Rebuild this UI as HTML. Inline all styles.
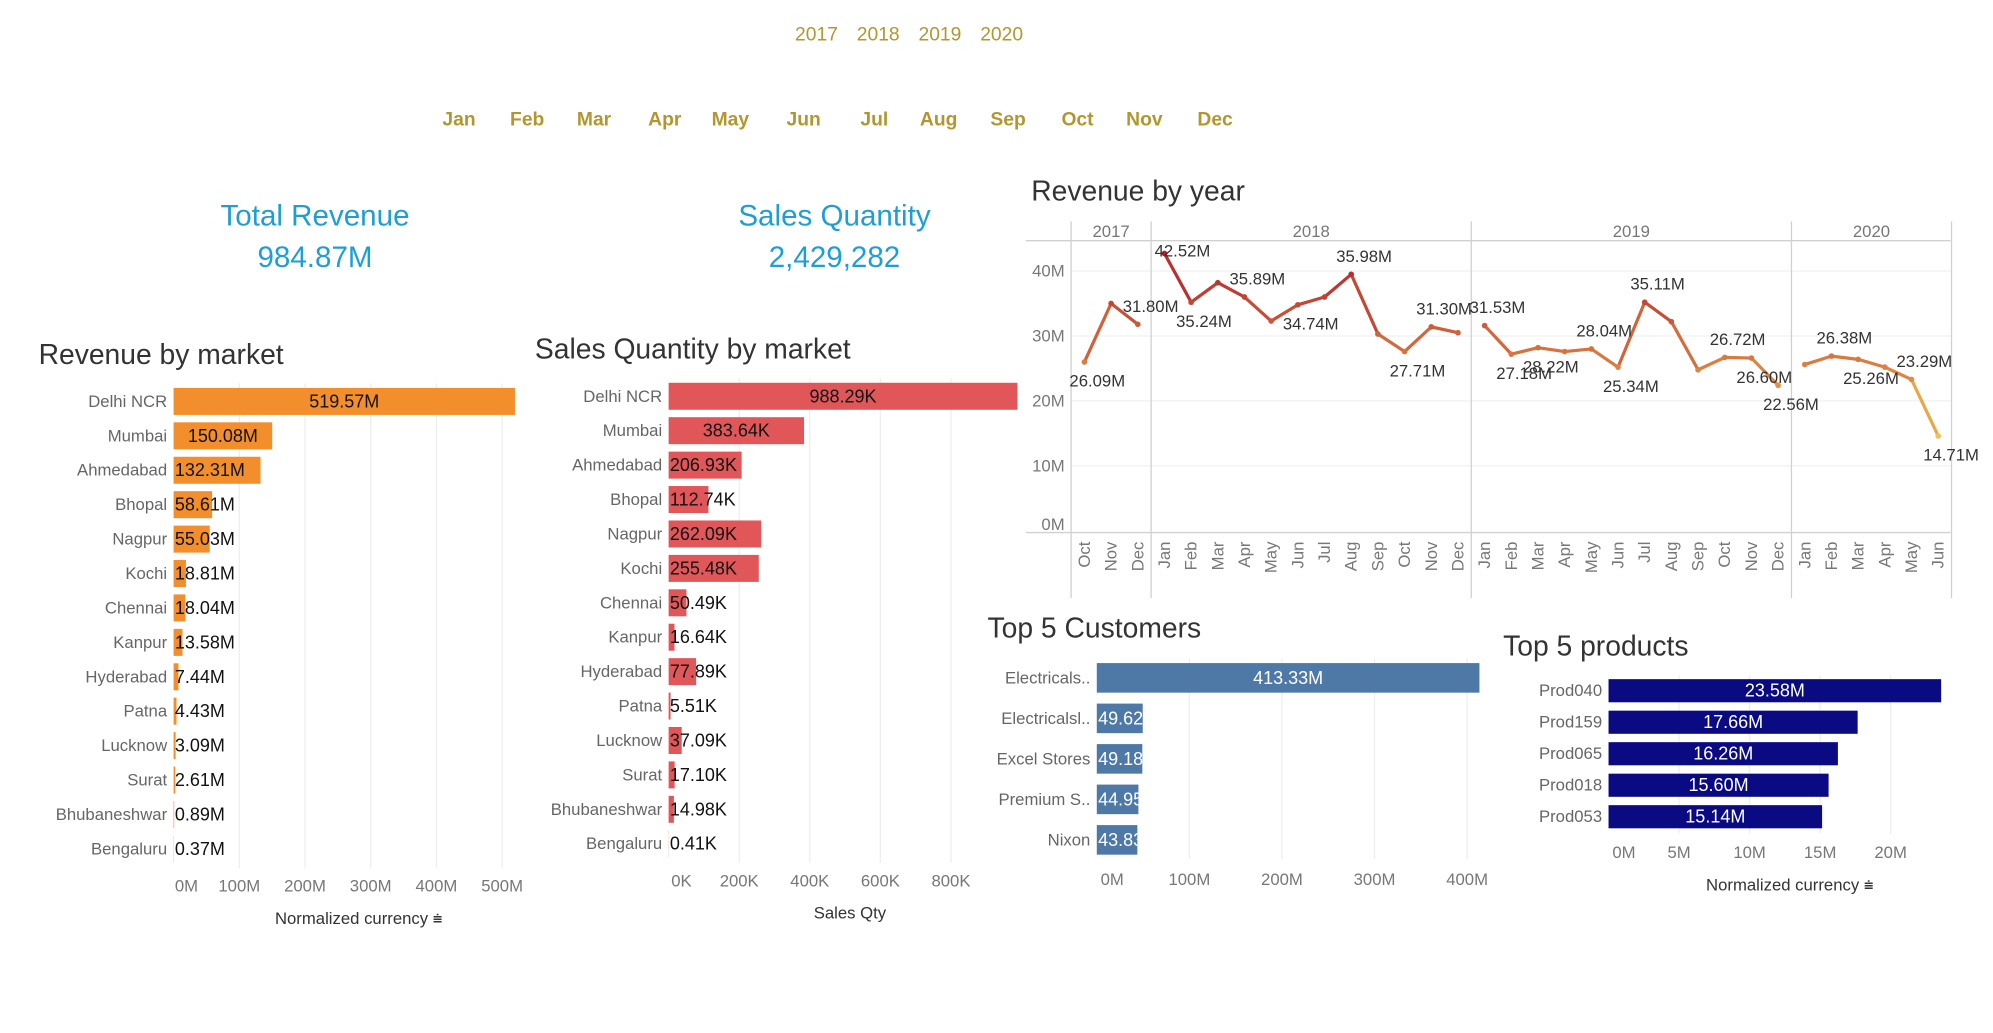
<!DOCTYPE html>
<html><head><meta charset="utf-8"><style>
html,body{margin:0;padding:0;background:#fff;}
svg{display:block;font-family:"Liberation Sans",sans-serif;}
</style></head><body>
<svg id="s" width="1993" height="1033" viewBox="0 0 1550 803" xmlns="http://www.w3.org/2000/svg"></svg>
<script>
// ---- data ----
const years = ['2017','2018','2019','2020'];
const months = ['Jan','Feb','Mar','Apr','May','Jun','Jul','Aug','Sep','Oct','Nov','Dec'];
const markets = ['Delhi NCR','Mumbai','Ahmedabad','Bhopal','Nagpur','Kochi','Chennai','Kanpur','Hyderabad','Patna','Lucknow','Surat','Bhubaneshwar','Bengaluru'];
const marketRevenue = [519.57,150.08,132.31,58.61,55.03,18.81,18.04,13.58,7.44,4.43,3.09,2.61,0.89,0.37];
const marketRevenueLabels = ['519.57M','150.08M','132.31M','58.61M','55.03M','18.81M','18.04M','13.58M','7.44M','4.43M','3.09M','2.61M','0.89M','0.37M'];
const marketQty = [988.29,383.64,206.93,112.74,262.09,255.48,50.49,16.64,77.89,5.51,37.09,17.10,14.98,0.41];
const marketQtyLabels = ['988.29K','383.64K','206.93K','112.74K','262.09K','255.48K','50.49K','16.64K','77.89K','5.51K','37.09K','17.10K','14.98K','0.41K'];
const revTicks = [0,100,200,300,400,500];
const revTickLabels = ['0M','100M','200M','300M','400M','500M'];
const qtyTicks = [0,200,400,600,800];
const qtyTickLabels = ['0K','200K','400K','600K','800K'];
const customers = ['Electricals..','Electricalsl..','Excel Stores','Premium S..','Nixon'];
const customerRevenue = [413.33,49.62,49.18,44.95,43.83];
const customerLabels = ['413.33M','49.62M','49.18M','44.95M','43.83M'];
const custTicks = [0,100,200,300,400];
const custTickLabels = ['0M','100M','200M','300M','400M'];
const products = ['Prod040','Prod159','Prod065','Prod018','Prod053'];
const productRevenue = [23.58,17.66,16.26,15.60,15.14];
const productLabels = ['23.58M','17.66M','16.26M','15.60M','15.14M'];
const prodTicks = [0,5,10,15,20];
const prodTickLabels = ['0M','5M','10M','15M','20M'];
const lineYears = ['2017','2018','2019','2020'];
const lineYearMonthCount = [3,12,12,6];
const lineMonths = ['Oct','Nov','Dec','Jan','Feb','Mar','Apr','May','Jun','Jul','Aug','Sep','Oct','Nov','Dec','Jan','Feb','Mar','Apr','May','Jun','Jul','Aug','Sep','Oct','Nov','Dec','Jan','Feb','Mar','Apr','May','Jun'];
const lineValues = [26.0,35.0,31.8,42.7,35.2,38.2,36.0,32.3,34.8,36.0,39.5,30.3,27.6,31.4,30.5,31.6,27.2,28.2,27.6,28.0,25.2,35.2,32.2,24.8,26.7,26.6,22.4,25.6,26.9,26.4,25.2,23.3,14.6];
const lineLabels = ['26.09M','','31.80M','42.52M','35.24M','','35.89M','','34.74M','','35.98M','','27.71M','31.30M','','31.53M','27.18M','28.22M','','28.04M','25.34M','35.11M','','','26.72M','26.60M','22.56M','','26.38M','25.26M','','23.29M','14.71M'];
const lineLabelDir = ['b','','a','r','b','','a','','b','','a','','b','a','','a','b','b','','a','b','a','','','a','b','b','','a','b','','a','b'];
const lineTicks = [0,10,20,30,40];
const lineTickLabels = ['0M','10M','20M','30M','40M'];

const S = document.getElementById('s');
const NS = 'http://www.w3.org/2000/svg';
function mk(tag, attrs, txt){const e=document.createElementNS(NS,tag);for(const k in attrs)e.setAttribute(k,attrs[k]);if(txt!==undefined)e.textContent=txt;S.appendChild(e);return e;}
function txt(x,y,t,size,fill,anchor,weight){return mk('text',{x:x,y:y,'font-size':size,fill:fill,'text-anchor':anchor||'start','dominant-baseline':'central','font-weight':weight||'normal'},t);}

// ---- filters ----
const yearX=[635,683,731,779];
years.forEach((y,i)=>{const e=txt(yearX[i],27,y,15,'#b3962f','middle');

});
const monX=[357,410,462,517,568,625,680,730,784,838,890,945];
months.forEach((m,i)=>{const e=txt(monX[i],93,m,15,'#b3962f','middle','bold');

});

// ---- KPIs ----
let e;
e=txt(245,168,'Total Revenue',23,'#1d9fd6','middle');


e=txt(245,200,'984.87M',23,'#1d9fd6','middle');


e=txt(649,168,'Sales Quantity',23,'#1d9fd6','middle');


e=txt(649,200,'2,429,282',23,'#1d9fd6','middle');



// ---- horizontal bar chart helper ----
function hbar(cfg){
  const sx=v=>cfg.x0+v*cfg.k;
  e=txt(cfg.tx,cfg.ty,cfg.title,22,'#333');
  
  
  cfg.ticks.forEach((t,i)=>{
    if(t>0){const g=mk('line',{x1:sx(t),x2:sx(t),y1:cfg.gy0,y2:cfg.gy1,stroke:'#eeeeee','stroke-width':1});
    
    }
    const l=txt(sx(t)+(i==0?cfg.zeroShift:0),cfg.tickY,cfg.tickLabels[i],13,'#777','middle');
    
    
  });
  cfg.cats.forEach((c,i)=>{
    const cy=cfg.y0+i*cfg.step;
    const n=txt(cfg.x0-5,cy,c,13,'#666','end');
    
    
    const w=cfg.vals[i]*cfg.k;
    const r=mk('rect',{x:cfg.x0,y:cy-cfg.bh/2,width:w,height:cfg.bh,fill:cfg.color});
    
    
    const tw=cfg.labels[i].length*7.8;
    let lab;
    if(w>tw+cfg.pad){lab=txt(cfg.x0+w/2,cy,cfg.labels[i],14,cfg.inColor,'middle');}
    else{
      lab=txt(cfg.x0+1,cy,cfg.labels[i],14,cfg.outColor,'start');
      if(cfg.clip){const cp=mk('clipPath',{id:cfg.id+'clip'+i});cp.appendChild(document.createElementNS(NS,'rect'));
        cp.firstChild.setAttribute('x',cfg.x0);cp.firstChild.setAttribute('y',cy-cfg.bh/2);cp.firstChild.setAttribute('width',w);cp.firstChild.setAttribute('height',cfg.bh);
        lab.setAttribute('clip-path','url(#'+cfg.id+'clip'+i+')');}
    }
    
    
  });
  if(cfg.axisTitle){const a=txt(cfg.atx,cfg.aty,cfg.axisTitle,13,'#333','middle');
  
  }
}

hbar({id:'revenue-by-market',title:'Revenue by market',tx:30,ty:275,cats:markets,vals:marketRevenue,labels:marketRevenueLabels,
  x0:135,k:0.511,y0:312,step:26.77,bh:21,color:'#f28e2b',inColor:'#111',outColor:'#111',pad:20,
  ticks:revTicks,tickLabels:revTickLabels,tickY:689,zeroShift:10,gy0:298,gy1:675,axisTitle:'Normalized currency ⩧',atx:279,aty:714});
hbar({id:'sales-qty-by-market',title:'Sales Quantity by market',tx:416,ty:271,cats:markets,vals:marketQty,labels:marketQtyLabels,
  x0:520,k:0.2745,y0:308,step:26.77,bh:21,color:'#e15759',inColor:'#111',outColor:'#111',pad:20,
  ticks:qtyTicks,tickLabels:qtyTickLabels,tickY:685,zeroShift:10,gy0:294,gy1:671,axisTitle:'Sales Qty',atx:661,aty:710});
hbar({id:'top-5-customers',title:'Top 5 Customers',tx:768,ty:488,cats:customers,vals:customerRevenue,labels:customerLabels,
  x0:853,k:0.72,y0:527,step:31.5,bh:23,color:'#4e79a7',inColor:'#fff',outColor:'#fff',pad:20,clip:true,
  ticks:custTicks,tickLabels:custTickLabels,tickY:684,zeroShift:12,gy0:512,gy1:668});
hbar({id:'top-5-products',title:'Top 5 products',tx:1169,ty:502,cats:products,vals:productRevenue,labels:productLabels,
  x0:1251,k:10.97,y0:537,step:24.5,bh:18,color:'#0a0a82',inColor:'#fff',outColor:'#fff',pad:20,
  ticks:prodTicks,tickLabels:prodTickLabels,tickY:663,zeroShift:12,gy0:525,gy1:648,axisTitle:'Normalized currency ⩧',atx:1392,aty:688});

// ---- revenue by year line chart ----
e=txt(802,148,'Revenue by year',22,'#333');


const LX0=833, MW=20.75, LY0=412.6, LK=5.05;
const lx=i=>LX0+(i+0.5)*MW;
const ly=v=>LY0-v*LK;
e=mk('line',{x1:798,x2:1517,y1:187,y2:187,stroke:'#d0d0d0'});


e=mk('line',{x1:798,x2:1517,y1:414,y2:414,stroke:'#d0d0d0'});


lineTicks.forEach((t,i)=>{
  if(t>0){const g=mk('line',{x1:833,x2:1517,y1:ly(t),y2:ly(t),stroke:'#f0f0f0'});
  
  }
  const l=txt(828,i==0?ly(t)-5:ly(t),lineTickLabels[i],13,'#777','end');
  
  
});
let acc=0;
const bounds=[0];
lineYearMonthCount.forEach(c=>{acc+=c;bounds.push(acc);});
bounds.forEach(b=>{
  const v=mk('line',{x1:LX0+b*MW,x2:LX0+b*MW,y1:172,y2:465,stroke:'#d0d0d0'});
  
  
});
lineYears.forEach((y,i)=>{
  const h=txt(LX0+(bounds[i]+bounds[i+1])/2*MW,180,y,13,'#777','middle');
  
  
});
lineMonths.forEach((m,i)=>{
  const t=mk('text',{x:0,y:0,'font-size':13,fill:'#777','text-anchor':'end','dominant-baseline':'central',transform:'translate('+lx(i)+',421) rotate(-90)'},m);
  
  
});
function col(v){const a=[245,196,80],b=[178,24,43];let t=Math.max(0,Math.min(1,(v-14)/(43-14)));
  return 'rgb('+a.map((c,j)=>Math.round(c+(b[j]-c)*t)).join(',')+')';}
for(let y=0;y<lineYears.length;y++){
  for(let i=bounds[y];i<bounds[y+1]-1;i++){
    const sg=mk('line',{x1:lx(i),y1:ly(lineValues[i]),x2:lx(i+1),y2:ly(lineValues[i+1]),stroke:col((lineValues[i]+lineValues[i+1])/2),'stroke-width':2.5,'stroke-linecap':'round'});
    
    
  }
}
lineValues.forEach((v,i)=>{
  const p=mk('circle',{cx:lx(i),cy:ly(v),r:2.2,fill:col(v)});
  
  
  if(lineLabels[i]){
    const d=lineLabelDir[i];
    const lbx=d=='r'?lx(i)+14:lx(i)+10;
    const lby=d=='a'?ly(v)-14:(d=='r'?ly(v)-2:ly(v)+15);
    const l=txt(lbx,lby,lineLabels[i],13,'#333','middle');
    
    
  }
});
</script>
</body></html>
